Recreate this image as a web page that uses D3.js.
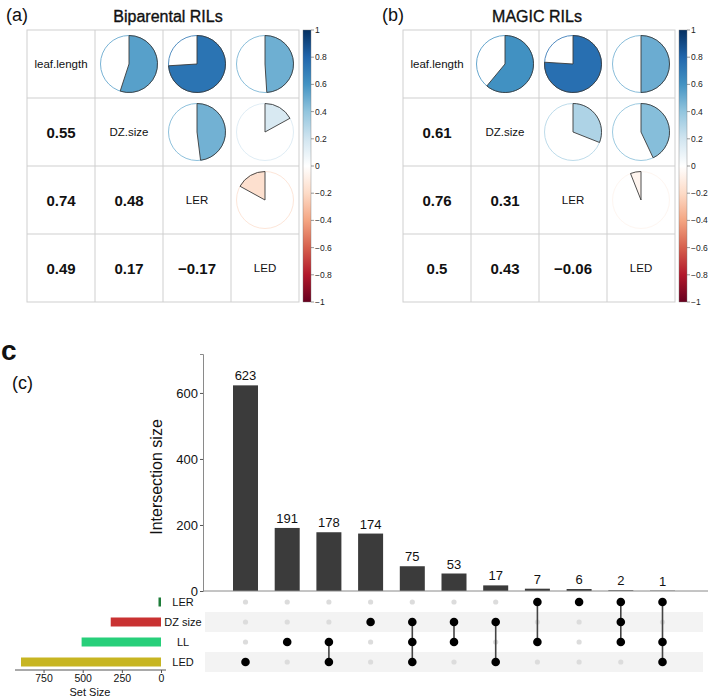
<!DOCTYPE html>
<html><head><meta charset="utf-8">
<script src="https://cdn.jsdelivr.net/npm/d3@7"></script>
<style>body{margin:0;background:#fff}svg{display:block;font-family:"Liberation Sans",Arial,Helvetica,sans-serif}</style>
</head><body>
<svg id="c" width="709" height="698"></svg>
<script>
// ---------- data ----------
const vars = ["leaf.length", "DZ.size", "LER", "LED"];
const corrBiparental = [
  [1, 0.55, 0.74, 0.49],
  [0.55, 1, 0.48, 0.17],
  [0.74, 0.48, 1, -0.17],
  [0.49, 0.17, -0.17, 1]
];
const corrMagic = [
  [1, 0.61, 0.76, 0.5],
  [0.61, 1, 0.31, 0.43],
  [0.76, 0.31, 1, -0.06],
  [0.5, 0.43, -0.06, 1]
];
const colorbarTicks = [1, 0.8, 0.6, 0.4, 0.2, 0, -0.2, -0.4, -0.6, -0.8, -1];
const paletteStops = ["#67001F","#B2182B","#D6604D","#F4A582","#FDDBC7","#FFFFFF","#D1E5F0","#92C5DE","#4393C3","#2166AC","#053061"];

const setNames = ["LER", "DZ size", "LL", "LED"];
const setSizes = [16, 321, 507, 894];
const setColors = ["#1e7d3a", "#c93232", "#27cf7a", "#c7b522"];
const setTicks = [750, 500, 250, 0];
const intersectionSizes = [623, 191, 178, 174, 75, 53, 17, 7, 6, 2, 1];
const intersectionSets = [
  ["LED"], ["LL"], ["LL", "LED"], ["DZ size"], ["DZ size", "LL", "LED"],
  ["DZ size", "LL"], ["DZ size", "LED"], ["LER", "LL"], ["LER"],
  ["LER", "DZ size", "LL"], ["LER", "LL", "LED"]
];
const yTicks = [0, 200, 400, 600];

// ---------- drawing ----------
const svg = d3.select("#c");
const fmt = v => String(v).replace("-", "\u2212");
const color = d3.scaleLinear().domain(d3.range(-1, 1.0001, 0.2)).range(paletteStops).interpolate(d3.interpolateRgb);

function corrPanel(opt) {
  const g = svg.append("g");
  const band = d3.scaleBand().domain(vars).range([opt.x0, opt.x0 + 272]);
  const row = d3.scaleBand().domain(vars).range([30, 302]);
  const cs = band.bandwidth();
  // grid
  g.append("rect").attr("x", opt.x0).attr("y", 30).attr("width", 272).attr("height", 272)
    .attr("fill", "none").attr("stroke", "#cfcfcf");
  vars.forEach((v, i) => {
    if (i > 0) {
      g.append("line").attr("x1", band(v)).attr("x2", band(v)).attr("y1", 30).attr("y2", 302).attr("stroke", "#cfcfcf");
      g.append("line").attr("y1", row(v)).attr("y2", row(v)).attr("x1", opt.x0).attr("x2", opt.x0 + 272).attr("stroke", "#cfcfcf");
    }
  });
  const arc = d3.arc().innerRadius(0).outerRadius(28.5);
  opt.data.forEach((r, i) => r.forEach((val, j) => {
    const cx = band(vars[j]) + cs / 2, cy = row(vars[i]) + cs / 2;
    if (i === j) {
      g.append("text").attr("x", cx).attr("y", cy).attr("text-anchor", "middle").attr("dominant-baseline", "central")
        .attr("font-size", 11.5).attr("fill", "#111").text(vars[i]);
    } else if (i > j) {
      g.append("text").attr("x", cx).attr("y", cy).attr("text-anchor", "middle").attr("dominant-baseline", "central")
        .attr("font-size", 15).attr("font-weight", "bold").attr("fill", "#111").text(fmt(val));
    } else {
      g.append("circle").attr("cx", cx).attr("cy", cy).attr("r", 28.5).attr("fill", "#fff")
        .attr("stroke", d3.interpolateRgb(color(val), "#fff")(0.2)).attr("stroke-width", 1);
      g.append("path").attr("transform", `translate(${cx},${cy})`)
        .attr("d", arc({startAngle: 0, endAngle: val * 2 * Math.PI}))
        .attr("fill", color(val)).attr("stroke", "#3a3a3a").attr("stroke-width", 0.9);
    }
  }));
  // colorbar
  const bx = opt.x0 + 276;
  const gid = "grad" + opt.id;
  const grad = svg.append("defs").append("linearGradient").attr("id", gid)
    .attr("x1", 0).attr("y1", 1).attr("x2", 0).attr("y2", 0);
  paletteStops.forEach((c, k) => grad.append("stop").attr("offset", k / (paletteStops.length - 1)).attr("stop-color", c));
  g.append("rect").attr("x", bx).attr("y", 30).attr("width", 8).attr("height", 272).attr("fill", `url(#${gid})`)
    .attr("stroke", "#777").attr("stroke-width", 0.4);
  const cb = d3.scaleLinear().domain([-1, 1]).range([302, 30]);
  colorbarTicks.forEach(t => {
    g.append("line").attr("x1", bx + 8).attr("x2", bx + 11).attr("y1", cb(t)).attr("y2", cb(t)).attr("stroke", "#555").attr("stroke-width", 0.6);
    g.append("text").attr("x", bx + 12).attr("y", cb(t)).attr("dominant-baseline", "central")
      .attr("font-size", 8.5).attr("fill", "#222").text(fmt(t));
  });
  // title and tag
  g.append("text").attr("x", opt.titleX).attr("y", 22).attr("text-anchor", "middle")
    .attr("font-size", 16).attr("fill", "#111").attr("stroke", "#111").attr("stroke-width", 0.35).text(opt.title);
  g.append("text").attr("x", opt.tagX).attr("y", 21).attr("font-size", 18).attr("fill", "#111").text(opt.tag);
}

corrPanel({id: "a", x0: 27, data: corrBiparental, title: "Biparental RILs", titleX: 168, tag: "(a)", tagX: 6});
corrPanel({id: "b", x0: 403, data: corrMagic, title: "MAGIC RILs", titleX: 537, tag: "(b)", tagX: 382});

// ---------- UpSet ----------
svg.append("text").attr("x", 1).attr("y", 360).attr("font-size", 28).attr("font-weight", "bold").attr("fill", "#111").text("c");
svg.append("text").attr("x", 12).attr("y", 389).attr("font-size", 18).attr("fill", "#111").text("(c)");

const xCol = d3.scalePoint().domain(d3.range(intersectionSizes.length)).range([245.5, 662.5]);
const yBar = d3.scaleLinear().domain([0, 718]).range([591, 354]);
const yRow = d3.scalePoint().domain(setNames).range([602, 662]);

// stripes
setNames.forEach((s, i) => {
  if (i % 2 === 1) svg.append("rect").attr("x", 205).attr("y", yRow(s) - 10).attr("width", 498).attr("height", 20).attr("fill", "#f3f3f3");
});

// bars
intersectionSizes.forEach((v, i) => {
  svg.append("rect").attr("x", xCol(i) - 12.5).attr("y", yBar(v)).attr("width", 25).attr("height", yBar(0) - yBar(v)).attr("fill", "#3b3b3b");
  svg.append("text").attr("x", xCol(i)).attr("y", yBar(v) - 5).attr("text-anchor", "middle").attr("font-size", 13).attr("fill", "#111").text(v);
});
// axes
const ay = svg.append("g").attr("transform", "translate(203,0)")
  .call(d3.axisLeft(yBar).tickValues(yTicks).tickSize(3).tickPadding(2));
ay.select(".domain").attr("stroke", "#8a8a8a");
ay.selectAll(".tick line").attr("stroke", "#555");
ay.selectAll(".tick text").attr("font-size", 13).attr("font-family", null).attr("fill", "#111");
svg.append("line").attr("x1", 203).attr("x2", 708).attr("y1", 591).attr("y2", 591).attr("stroke", "#8a8a8a");
svg.append("text").attr("transform", "translate(162,477) rotate(-90)").attr("text-anchor", "middle")
  .attr("font-size", 16).attr("fill", "#111").text("Intersection size");

// matrix
intersectionSets.forEach((sets, i) => {
  setNames.forEach(s => {
    svg.append("circle").attr("cx", xCol(i)).attr("cy", yRow(s)).attr("r", 2.6).attr("fill", "#dcdcdc");
  });
  const ys = sets.map(s => yRow(s));
  if (ys.length > 1) svg.append("line").attr("x1", xCol(i)).attr("x2", xCol(i))
    .attr("y1", d3.min(ys)).attr("y2", d3.max(ys)).attr("stroke", "#444").attr("stroke-width", 1.6);
  sets.forEach(s => svg.append("circle").attr("cx", xCol(i)).attr("cy", yRow(s)).attr("r", 4.3).attr("fill", "#000"));
});

// set sizes
const xSet = d3.scaleLinear().domain([0, 894]).range([161, 21]);
setNames.forEach((s, i) => {
  svg.append("rect").attr("x", xSet(setSizes[i])).attr("y", yRow(s) - 4.5).attr("width", xSet(0) - xSet(setSizes[i]))
    .attr("height", 9).attr("fill", setColors[i]);
  svg.append("text").attr("x", 183).attr("y", yRow(s)).attr("text-anchor", "middle").attr("dominant-baseline", "central")
    .attr("font-size", 11).attr("fill", "#111").text(s);
});
const ax = svg.append("g").attr("transform", "translate(0,670)")
  .call(d3.axisBottom(xSet).tickValues(setTicks).tickSize(3).tickPadding(2));
ax.select(".domain").remove();
ax.append("line").attr("x1", 15).attr("x2", 166).attr("stroke", "#555");
ax.selectAll(".tick line").attr("stroke", "#555");
ax.selectAll(".tick text").attr("font-size", 10.5).attr("font-family", null).attr("fill", "#111");
svg.append("text").attr("x", 90).attr("y", 696).attr("text-anchor", "middle").attr("font-size", 11).attr("fill", "#111").text("Set Size");
</script>
</body></html>
